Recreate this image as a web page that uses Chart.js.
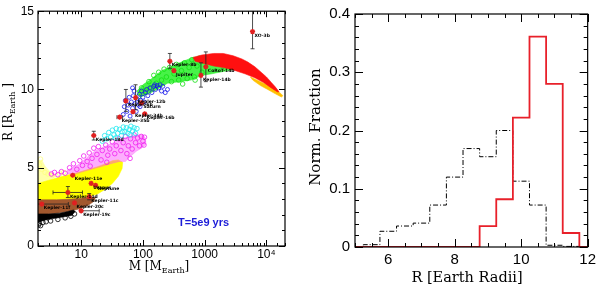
<!DOCTYPE html>
<html><head><meta charset="utf-8">
<script src="https://cdn.jsdelivr.net/npm/chart.js@4/dist/chart.umd.min.js"></script>
<style>
html,body{margin:0;padding:0;background:#fff;}
#wrap{display:flex;width:600px;height:286px;}
canvas{display:block;}
</style></head><body>
<div id="wrap"><canvas id="left" width="300" height="286"></canvas><canvas id="right" width="300" height="286"></canvas></div>
<script>
// ---------------- LEFT PANEL DATA (M [Earth masses], R [Earth radii]) ----------------
const blackBand = [[2,2.05],[3,2.05],[4.5,2.1],[6,2.2],[7.5,2.3],[8,2.2],[7,1.95],[5,1.85],[3.5,1.75],[2.5,1.65],[2,1.5]];
const blackDots = [[2.05,1.35],[2.1,1.45],[2.2,1.3],[2.4,1.5],[2.7,1.55],[3.2,1.6],[4.2,1.7],[5.5,1.8],[6.8,1.9],[7.8,2.05]];
const brownBand = [[2,2.95],[4,2.95],[7,3.0],[10,3.05],[14,3.15],[17,3.1],[16,2.85],[13,2.6],[10,2.4],[7,2.25],[4,2.1],[2,2.0]];
const yellowBand = [[2,4.0],[3,4.2],[5,4.45],[8,4.65],[12,4.85],[18,5.05],[25,5.25],[32,5.45],[40,5.5],[47,5.35],[46,4.95],[40,4.45],[32,4.0],[24,3.6],[18,3.3],[13,3.15],[8,3.0],[4,2.95],[2,2.85]];
const paleYellowBand = [[2,3.9],[2,5.45],[2.3,5.5],[2.6,5.1],[3.2,4.7],[4,4.45],[3,4.2]];
const paleYellowDots = [[2.1,5.2],[2.3,4.9],[2.6,4.7],[2.9,4.6],[3.4,4.5],[4.5,4.6],[5.2,4.7],[2.2,5.55]];
const magentaBand = [[6,4.85],[9,5.2],[12,5.6],[17,6.1],[24,6.35],[33,6.6],[45,6.85],[60,7.0],[80,7.1],[100,7.1],[110,6.9],[112,6.5],[95,6.25],[78,6.05],[62,5.7],[52,5.4],[42,5.4],[30,5.25],[20,5.05],[12,4.8],[8,4.6],[6,4.6]];
const magentaDots = [[3.3,4.6],[3.7,4.7],[4.2,4.55],[4.8,4.75],[5.5,4.65],[6.5,5.0],[7.5,5.25],[8.5,4.9],[9.5,5.45],[10.5,5.15],[11,5.75],[12.5,5.4],[13.5,5.95],[15,5.6],[16,6.25],[18,5.85],[19,6.35],[21,5.5],[22,6.1],[25,6.45],[27,5.8],[29,6.2],[32,6.65],[35,5.9],[37,6.4],[41,6.85],[44,6.1],[48,6.6],[52,7.0],[55,5.9],[58,6.4],[63,6.85],[67,6.2],[72,7.1],[76,6.6],[82,6.9],[88,6.4],[94,7.0],[100,6.7],[106,6.95],[104,6.45],[26,5.35],[14,5.1],[62,5.6]];
const cyanDots = [[22,6.7],[24,7.05],[26,6.85],[28,7.25],[30,6.95],[32,7.4],[34,7.1],[37,7.5],[39,7.2],[42,7.45],[45,7.05],[48,7.6],[51,7.3],[54,7.55],[57,7.2],[60,7.45],[64,7.65],[68,7.35],[72,7.55],[76,7.2],[80,7.5],[36,6.9],[46,7.3],[62,7.1]];
const blueDots = [[48,8.4],[50,8.9],[52,9.3],[55,8.6],[58,9.0],[60,9.5],[62,8.3],[65,9.2],[68,8.8],[68,10.1],[70,9.6],[72,9.9],[75,9.1],[78,8.6],[80,9.4],[85,9.0],[88,9.7],[90,8.9],[92,9.3],[95,9.9],[100,9.5],[105,9.2],[110,9.8],[115,10.0],[120,9.6],[130,10.1],[140,9.8],[150,10.2],[155,10.3],[160,10.0],[170,10.25],[180,10.1],[190,10.3],[200,9.9],[210,10.2],[230,9.8],[250,10.0]];
const greenBand = [[80,9.9],[100,10.3],[140,10.7],[200,11.2],[300,11.5],[450,11.8],[650,12.05],[1000,12.15],[1500,12.2],[2200,12.0],[3000,11.8],[3200,11.3],[2000,11.15],[1300,11.0],[900,10.9],[600,10.6],[400,10.5],[250,10.4],[170,10.0],[120,9.7],[90,9.5]];
const greenDots = [[85,9.55],[95,10.1],[110,9.9],[125,10.5],[135,10.1],[150,10.9],[165,10.4],[180,11.1],[200,10.6],[220,11.3],[240,10.8],[270,11.4],[290,10.5],[320,11.0],[350,11.6],[380,10.6],[420,11.2],[470,11.7],[520,10.7],[560,11.4],[620,11.9],[680,10.8],[750,11.5],[820,12.0],[900,11.1],[700,10.6],[440,10.35]];
const orangeBand = [[5500,10.8],[8000,10.5],[11000,10.25],[14000,10.0],[17000,9.75],[18500,9.6],[17500,9.52],[14000,9.72],[10500,10.0],[8000,10.25],[6000,10.6]];
const redBand = [[650,12.05],[900,12.2],[1400,12.3],[2000,12.3],[2900,12.15],[4000,11.95],[5000,11.75],[6500,11.45],[8200,11.1],[10000,10.8],[12000,10.45],[14000,10.15],[16000,9.85],[15000,9.85],[12000,10.1],[9000,10.45],[6500,10.75],[4500,11.0],[2900,11.25],[2000,11.4],[1400,11.5],[1000,11.65],[700,11.8]];

// observed planets
const planetNames = ['XO-3b','Kepler-8b','Jupiter','CoRoT-14b','Kepler-14b','Kepler-6b','Kepler-12b','Saturn','Kepler-35b','Kepler-34b','Kepler-16b','Kepler-18d','Kepler-11e','Uranus','Neptune','Kepler-11d','Kepler-11c','Kepler-20c','Kepler-11f','Kepler-19c'];
const planetM = [5960,273,318,1045,870,53,76,95,42,69,107,16,7.3,14.5,17.1,6.1,13.5,7.8,2.3,10];
const planetR = [13.7,11.8,11.2,11.45,10.9,9.27,9.48,9.14,8.23,8.58,8.45,7.06,4.52,4.0,3.88,3.42,3.15,2.75,2.68,2.25];
const rErrLo = [12.6,11.35,null,10.5,10.15,8.6,8.7,null,null,null,null,6.77,null,null,null,3.1,2.95,null,null,null];
const rErrHi = [15.2,12.3,null,12.4,11.7,10.0,10.3,null,null,null,null,7.33,null,null,null,3.8,3.35,null,null,null];
const mErrLo = [null,null,null,null,null,null,null,null,38,null,null,null,null,null,null,3.5,null,null,1.5,10];
const mErrHi = [null,null,null,null,null,null,null,null,47,null,null,null,null,null,null,10.5,null,null,6.2,19.6];

const xTickValues = [10,100,1000,10000];
const xTickText = ['10','100','1000','10\u2074'];
const yTickValues = [0,5,10,15];
const ageLabel = 'T=5e9 yrs';

// ---------------- RIGHT PANEL DATA ----------------
const binLeftEdges = [5.25,5.75,6.25,6.75,7.25,7.75,8.25,8.75,9.25,9.75,10.25,10.75,11.25];
const binLastEdge = 11.75;
const blackFrac = [0.004,0.027,0.036,0.041,0.072,0.120,0.169,0.155,0.200,0.113,0.072,0.003,0.001];
const redFrac = [0,0,0,0,0,0,0,0.036,0.082,0.222,0.361,0.280,0.024];
const rTickLabels = ['6','8','10','12'];

// ---------------- helpers ----------------
const xy = a => a.map(p => ({x:p[0], y:p[1]}));
function band(data, color, order){
  return {type:'scatter', data:xy(data), order, showLine:false, pointRadius:0, polyColor:color, borderColor:color, backgroundColor:color};
}
function dots(data, color, order, r){
  return {type:'scatter', data:xy(data), order, showLine:false, pointStyle:'circle', pointRadius:r||2.3, pointBorderWidth:0.8, borderColor:color, backgroundColor:'rgba(255,255,255,0)', pointBackgroundColor:'rgba(255,255,255,0)', pointBorderColor:color};
}
// fills each band dataset through the pixel positions the library computed for its points
const polyFill = {id:'polyFill', beforeDatasetDraw(chart, args){
  const ds = chart.data.datasets[args.index]; if(!ds.polyColor) return;
  const pts = args.meta.data, a = chart.chartArea, ctx = chart.ctx;
  ctx.save(); ctx.beginPath(); ctx.rect(a.left,a.top,a.right-a.left,a.bottom-a.top); ctx.clip();
  ctx.beginPath(); pts.forEach((p,i)=> i ? ctx.lineTo(p.x,p.y) : ctx.moveTo(p.x,p.y)); ctx.closePath();
  ctx.fillStyle=ds.polyColor; ctx.fill(); ctx.strokeStyle=ds.polyColor; ctx.lineWidth=0.6; ctx.stroke();
  ctx.restore();
}};
function frameTicks(cfg){
  return {id:'frameTicks', afterDraw(chart){
    const {ctx, chartArea:a, scales:{x,y}} = chart;
    ctx.save(); ctx.strokeStyle='#000'; ctx.lineWidth=1; ctx.beginPath();
    x.ticks.forEach(t=>{ const p=Math.round(x.getPixelForValue(t.value))+0.5; if(p<a.left-1||p>a.right+1) return;
      const L=cfg.majX(t.value)?cfg.major:cfg.minor; ctx.moveTo(p,a.bottom); ctx.lineTo(p,a.bottom-L); ctx.moveTo(p,a.top); ctx.lineTo(p,a.top+L);});
    y.ticks.forEach(t=>{ const p=Math.round(y.getPixelForValue(t.value))+0.5; if(p<a.top-1||p>a.bottom+1) return;
      const L=cfg.majY(t.value)?cfg.major:cfg.minor; ctx.moveTo(a.left,p); ctx.lineTo(a.left+L,p); ctx.moveTo(a.right,p); ctx.lineTo(a.right-L,p);});
    ctx.stroke();
    ctx.lineWidth=1.2; ctx.strokeRect(a.left, a.top, a.right-a.left, a.bottom-a.top);
    ctx.restore();
  }};
}
function drawParts(ctx, parts, cx, cy, rot, family, size, subSize){
  ctx.save(); ctx.translate(cx, cy); if(rot) ctx.rotate(rot);
  ctx.fillStyle='#000'; ctx.textBaseline='middle'; ctx.textAlign='left';
  let w=0; parts.forEach(p=>{ ctx.font=(p.s?subSize:size)+'px '+family; w+=ctx.measureText(p.t).width; });
  let x=-w/2;
  parts.forEach(p=>{ ctx.font=(p.s?subSize:size)+'px '+family; ctx.fillText(p.t, x, p.s? size*0.35 : 0); x+=ctx.measureText(p.t).width; });
  ctx.restore();
}

// ---------------- LEFT CHART ----------------
const planetIdx = 0;
const leftExtras = {id:'leftExtras',
  beforeDatasetDraw(chart, args){
    if(args.index!==planetIdx) return;
    const {ctx, chartArea:a, scales:{x,y}} = chart;
    ctx.save(); ctx.beginPath(); ctx.rect(a.left,a.top,a.right-a.left,a.bottom-a.top); ctx.clip();
    ctx.strokeStyle='#222'; ctx.lineWidth=0.8; ctx.beginPath();
    planetM.forEach((m,i)=>{
      const px=x.getPixelForValue(m), py=y.getPixelForValue(planetR[i]);
      if(rErrLo[i]!=null){ const y1=y.getPixelForValue(rErrLo[i]), y2=y.getPixelForValue(rErrHi[i]);
        ctx.moveTo(px,y1); ctx.lineTo(px,y2); ctx.moveTo(px-2,y1); ctx.lineTo(px+2,y1); ctx.moveTo(px-2,y2); ctx.lineTo(px+2,y2); }
      if(mErrLo[i]!=null){ const x1=x.getPixelForValue(mErrLo[i]), x2=x.getPixelForValue(mErrHi[i]);
        ctx.moveTo(x1,py); ctx.lineTo(x2,py); ctx.moveTo(x1,py-2); ctx.lineTo(x1,py+2); ctx.moveTo(x2,py-2); ctx.lineTo(x2,py+2); }
    });
    ctx.stroke(); ctx.restore();
  },
  afterDatasetsDraw(chart){
    const {ctx, scales:{x,y}} = chart;
    ctx.save(); ctx.fillStyle='#000'; ctx.font='bold 4.5px "DejaVu Sans"'; ctx.textBaseline='middle'; ctx.textAlign='left';
    planetM.forEach((m,i)=>{ ctx.fillText(planetNames[i], x.getPixelForValue(m)+2, y.getPixelForValue(planetR[i])+4); });
    ctx.fillStyle='#1c1cd8'; ctx.font='bold 11px "Liberation Sans"'; ctx.textAlign='center';
    ctx.fillText(ageLabel, x.getPixelForValue(960), y.getPixelForValue(1.5));
    ctx.restore();
  },
  afterDraw(chart){
    const ctx=chart.ctx;
    drawParts(ctx,[{t:'M [M'},{t:'Earth',s:true},{t:']'}],159,267,0,'"DejaVu Serif"',12,8);
    drawParts(ctx,[{t:'R [R'},{t:'Earth',s:true},{t:' ]'}],9,112,-Math.PI/2,'"DejaVu Serif"',12,8);
  }
};

new Chart(document.getElementById('left'), {
  type:'scatter',
  data:{datasets:[
    {type:'scatter', data:planetM.map((m,i)=>({x:m,y:planetR[i]})), order:0, pointStyle:'star', pointRadius:2.6, pointBorderWidth:1.4, pointBorderColor:'#e02020', pointBackgroundColor:'#e02020', borderColor:'#e02020', backgroundColor:'#e02020'},
    band(redBand,'#ff1010',1),
    band(orangeBand,'#ffc000',2),
    dots(blueDots,'#1515e8',3,2),
    dots(greenDots,'#10e010',4),
    band(greenBand,'rgba(40,240,40,0.85)',5),
    dots(cyanDots,'#20e8f0',6),
    dots(magentaDots,'#f020f0',7),
    band(magentaBand,'rgba(250,60,250,0.42)',8),
    dots(blackDots,'#000',9),
    band(blackBand,'#000',10),
    band(brownBand,'#a2582e',11),
    band(yellowBand,'#ffff00',12),
    dots(paleYellowDots,'#ffff80',13),
    band(paleYellowBand,'#ffffa8',14)
  ]},
  options:{
    responsive:false, animation:false, events:[], devicePixelRatio:1,
    layout:{padding:{left:0,right:15,top:5,bottom:0}},
    plugins:{legend:{display:false}, tooltip:{enabled:false}},
    scales:{
      x:{type:'logarithmic', min:2, max:20000, grid:{display:false, drawTicks:false}, border:{display:false},
        ticks:{autoSkip:false, maxRotation:0, minRotation:0, padding:1, color:'#000', font:{family:'"Liberation Sans"', size:12},
          callback:(v)=>{ const k=xTickValues.indexOf(Math.round(v)); return (k>=0 && Math.abs(v-xTickValues[k])<1e-6)? xTickText[k] : ''; }},
        afterFit:(s)=>{s.height=40;}},
      y:{type:'linear', min:0, max:15, grid:{display:false, drawTicks:false}, border:{display:false},
        ticks:{stepSize:1, autoSkip:false, padding:4, color:'#000', font:{family:'"Liberation Sans"', size:12},
          callback:(v)=> yTickValues.includes(v)? String(v) : ''},
        afterFit:(s)=>{s.width=38;}}
    }
  },
  plugins:[polyFill, leftExtras, frameTicks({major:6, minor:3,
    majX:v=>{const l=Math.log10(v); return Math.abs(l-Math.round(l))<1e-9;},
    majY:v=>Math.round(v)%5===0})]
});

// ---------------- RIGHT CHART ----------------
function stepData(vals){
  const d=[{x:5,y:0}];
  binLeftEdges.forEach((e,i)=>d.push({x:e,y:vals[i]}));
  d.push({x:binLastEdge,y:0}); d.push({x:12,y:0});
  return d;
}
const rightExtras = {id:'rightExtras', afterDraw(chart){
  const ctx=chart.ctx;
  drawParts(ctx,[{t:'R [Earth Radii]'}],167,278,0,'"DejaVu Serif"',14.5,10);
  drawParts(ctx,[{t:'Norm. Fraction'}],16,127,-Math.PI/2,'"DejaVu Serif"',15,10);
}};
new Chart(document.getElementById('right'), {
  type:'line',
  data:{datasets:[
    {data:stepData(redFrac), stepped:'before', borderColor:'#e8202a', borderWidth:1.8, pointRadius:0, fill:false, order:0},
    {data:stepData(blackFrac), stepped:'before', borderColor:'#000', borderWidth:1, borderDash:[5,2,1,2], pointRadius:0, fill:false, order:1}
  ]},
  options:{
    responsive:false, animation:false, events:[], devicePixelRatio:1,
    layout:{padding:{left:0,right:8,top:11,bottom:0}},
    plugins:{legend:{display:false}, tooltip:{enabled:false}},
    scales:{
      x:{type:'linear', min:5, max:12, grid:{display:false, drawTicks:false}, border:{display:false},
        ticks:{stepSize:0.5, autoSkip:false, maxRotation:0, padding:4, color:'#000', font:{family:'"Liberation Sans"', size:15},
          callback:(v)=> rTickLabels.includes(String(v))? String(v) : ''},
        afterFit:(s)=>{s.height=39;}},
      y:{type:'linear', min:0, max:0.4, grid:{display:false, drawTicks:false}, border:{display:false},
        ticks:{stepSize:0.02, autoSkip:false, padding:5, color:'#000', font:{family:'"Liberation Sans"', size:15},
          callback:(v)=>{ const k=Math.round(v*100); return k%10===0? String(k/100) : ''; }},
        afterFit:(s)=>{s.width=55;}}
    }
  },
  plugins:[rightExtras, frameTicks({major:8, minor:4,
    majX:v=>Math.abs(v/2-Math.round(v/2))<1e-6,
    majY:v=>Math.round(v*100)%10===0})]
});
</script>
</body></html>
